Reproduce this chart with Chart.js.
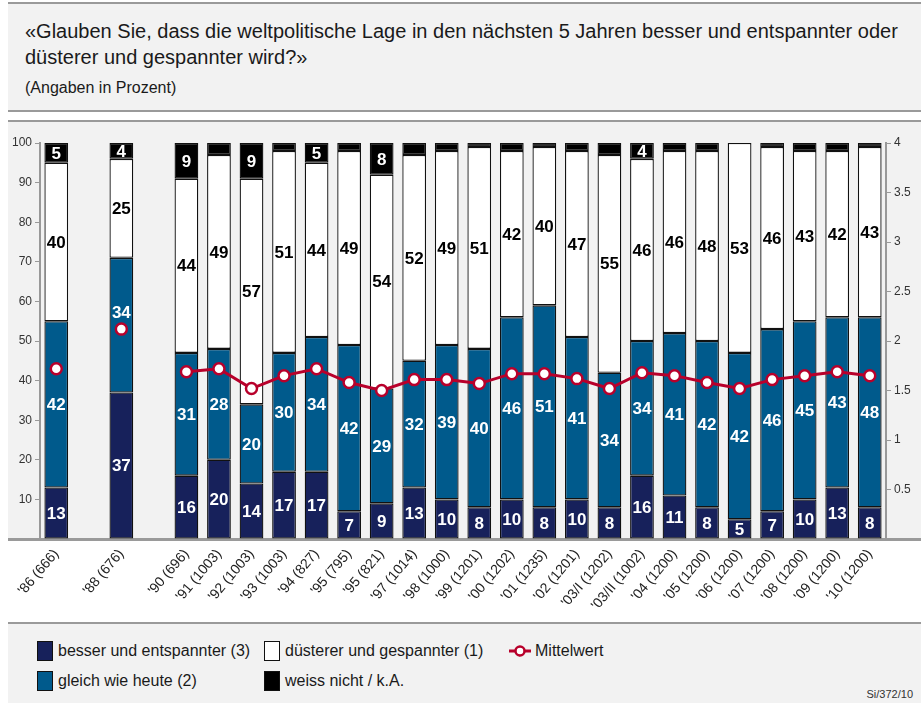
<!DOCTYPE html>
<html>
<head>
<meta charset="utf-8">
<script src="https://cdn.jsdelivr.net/npm/chart.js@4.4.1/dist/chart.umd.min.js"></script>
<style>
  body { margin: 0; background: #fff; font-family: "Liberation Sans", Arial, sans-serif; color: #1a1a1a; }
  #page { position: relative; width: 921px; height: 703px; overflow: hidden; }
  #head { position: absolute; left: 8px; top: 2px; width: 913px; height: 106px; background: #f2f2f2;
          border-top: 2px solid #9a9a9a; border-bottom: 2px solid #9a9a9a; }
  #head h1 { position: absolute; left: 17px; top: 14px; margin: 0; width: 895px;
             font-size: 20px; font-weight: normal; line-height: 26px; }
  #head p { position: absolute; left: 17px; top: 75px; margin: 0; font-size: 16px; line-height: 18px; }
  #plot { position: absolute; left: 8px; top: 120px; width: 913px; height: 416px; background: #f2f2f2;
          border-top: 2px solid #9a9a9a; border-bottom: 3px solid #9a9a9a; }
  #wrap { position: absolute; left: 0; top: 112px; width: 921px; height: 511px; }
  #legend { position: absolute; left: 8px; top: 622px; width: 913px; height: 79px; background: #f2f2f2;
            border-top: 2px solid #9a9a9a; font-size: 16px; }
  .item { position: absolute; height: 20px; line-height: 20px; white-space: nowrap; }
  .sw { display: inline-block; width: 14px; height: 18px; border: 1px solid #111; vertical-align: top; margin-right: 5px; }
  #src { position: absolute; right: 8px; bottom: 3px; font-size: 11px; color: #333; }
</style>
</head>
<body>
<div id="page">
  <div id="head">
    <h1>«Glauben Sie, dass die weltpolitische Lage in den nächsten 5 Jahren besser und entspannter oder düsterer und gespannter wird?»</h1>
    <p>(Angaben in Prozent)</p>
  </div>
  <div id="plot"></div>
  <div id="wrap"><canvas id="chart"></canvas></div>
  <div id="legend">
    <div class="item" style="left:29px;top:17px"><span class="sw" style="background:#17215b"></span>besser und entspannter (3)</div>
    <div class="item" style="left:256px;top:17px"><span class="sw" style="background:#fff"></span>düsterer und gespannter (1)</div>
    <div class="item" style="left:501px;top:17px">
      <svg width="22" height="20" style="vertical-align:top;margin-right:4px"><line x1="0" y1="10" x2="22" y2="10" stroke="#b8002b" stroke-width="3"/><circle cx="11" cy="10" r="4.5" fill="#fff" stroke="#b8002b" stroke-width="2.5"/></svg>Mittelwert</div>
    <div class="item" style="left:29px;top:47px"><span class="sw" style="background:#005a8c"></span>gleich wie heute (2)</div>
    <div class="item" style="left:256px;top:47px"><span class="sw" style="background:#000"></span>weiss nicht / k.A.</div>
    <div id="src">Si/372/10</div>
  </div>
</div>
<script>
var labels = ["'86 (666)", '', "'88 (676)", '', "'90 (696)", "'91 (1003)", "'92 (1003)", "'93 (1003)",
  "'94 (827)", "'95 (795)", "'95 (821)", "'97 (1014)", "'98 (1000)", "'99 (1201)", "'00 (1202)",
  "'01 (1235)", "'02 (1201)", "'03/I (1202)", "'03/II (1002)", "'04 (1200)", "'05 (1200)",
  "'06 (1200)", "'07 (1200)", "'08 (1200)", "'09 (1200)", "'10 (1200)"];

var besser    = [13, null, 37, null, 16, 20, 14, 17, 17, 7, 9, 13, 10, 8, 10, 8, 10, 8, 16, 11, 8, 5, 7, 10, 13, 8];
var gleich    = [42, null, 34, null, 31, 28, 20, 30, 34, 42, 29, 32, 39, 40, 46, 51, 41, 34, 34, 41, 42, 42, 46, 45, 43, 48];
var duesterer = [40, null, 25, null, 44, 49, 57, 51, 44, 49, 54, 52, 49, 51, 42, 40, 47, 55, 46, 46, 48, 53, 46, 43, 42, 43];
var weissNicht = [5, null, 4, null, 9, 3, 9, 2, 5, 2, 8, 3, 2, 1, 2, 1, 2, 3, 4, 2, 2, 0, 1, 2, 2, 1];
var mittelwert = [1.72, null, 2.12, null, 1.69, 1.72, 1.52, 1.65, 1.72, 1.58, 1.50, 1.61, 1.61, 1.57,
  1.67, 1.67, 1.62, 1.52, 1.68, 1.65, 1.58, 1.52, 1.61, 1.65, 1.69, 1.65];

var FONT = '"Liberation Sans", Arial, sans-serif';

// numbers inside the bar segments, moved above the mean point when they would sit under it
var valueLabels = {
  id: 'valueLabels',
  afterDatasetDraw: function(chart, args) {
    var ds = chart.data.datasets[args.index];
    if (ds.type === 'line') return;
    var ctx = chart.ctx;
    var points = chart.getDatasetMeta(0).data;
    ctx.save();
    ctx.font = 'bold 17px ' + FONT;
    ctx.textAlign = 'center';
    ctx.textBaseline = 'middle';
    ctx.fillStyle = ds.textColor;
    args.meta.data.forEach(function(bar, i) {
      var v = ds.data[i];
      if (v == null || v < 4) return;
      var p = bar.getProps(['x', 'y', 'base'], true);
      var y = (p.y + p.base) / 2 + 1;
      var pt = points[i];
      if (pt && !pt.skip && Math.abs(pt.y - y) < 14) y = pt.y - 16;
      ctx.fillText(v, p.x, y);
    });
    ctx.restore();
  }
};

function barSet(label, data, color, textColor) {
  return {
    type: 'bar', label: label, data: data, order: 1, yAxisID: 'y',
    backgroundColor: color, borderColor: '#111', borderWidth: 1.3, borderSkipped: false,
    textColor: textColor
  };
}

document.addEventListener('DOMContentLoaded', function() {
  new Chart(document.getElementById('chart'), {
    data: {
      labels: labels,
      datasets: [
        {
          type: 'line', label: 'Mittelwert', data: mittelwert, order: 0, yAxisID: 'y1',
          borderColor: '#b8002b', borderWidth: 3, spanGaps: false,
          pointRadius: 5.5, pointBorderWidth: 2.5, pointBackgroundColor: '#fff', pointBorderColor: '#b8002b'
        },
        barSet('besser und entspannter (3)', besser, '#17215b', '#fff'),
        barSet('gleich wie heute (2)', gleich, '#005a8c', '#fff'),
        barSet('düsterer und gespannter (1)', duesterer, '#fff', '#000'),
        barSet('weiss nicht / k.A.', weissNicht, '#000', '#fff')
      ]
    },
    options: {
      responsive: true,
      maintainAspectRatio: false,
      animation: false,
      layout: { padding: { top: 31, left: 0, right: 0, bottom: 0 } },
      datasets: { bar: { barPercentage: 0.73, categoryPercentage: 1 } },
      plugins: { legend: { display: false }, tooltip: { enabled: false } },
      scales: {
        x: {
          stacked: true,
          offset: true,
          grid: { display: false, drawTicks: false },
          border: { display: false },
          ticks: {
            autoSkip: false, maxRotation: 50, minRotation: 50, padding: 7,
            color: '#222', font: { family: FONT, size: 14 }
          },
          afterFit: function(s) { s.height = 84; }
        },
        y: {
          stacked: true, position: 'left', min: 0, max: 100,
          grid: { drawOnChartArea: false, tickLength: 5, color: '#999' },
          border: { color: '#999', width: 2 },
          ticks: {
            stepSize: 10, padding: 3, color: '#333', font: { family: FONT, size: 12 },
            callback: function(v) { return v === 0 ? '' : String(v); }
          },
          afterFit: function(s) { s.width = 40; }
        },
        y1: {
          position: 'right', min: 0, max: 4,
          grid: { drawOnChartArea: false, tickLength: 5, color: '#999' },
          border: { color: '#999', width: 2 },
          ticks: {
            stepSize: 0.5, padding: 3, color: '#333', font: { family: FONT, size: 12 },
            callback: function(v) { return v === 0 ? '' : String(v); }
          },
          afterFit: function(s) { s.width = 35; }
        }
      }
    },
    plugins: [valueLabels]
  });
});
</script>
</body>
</html>
